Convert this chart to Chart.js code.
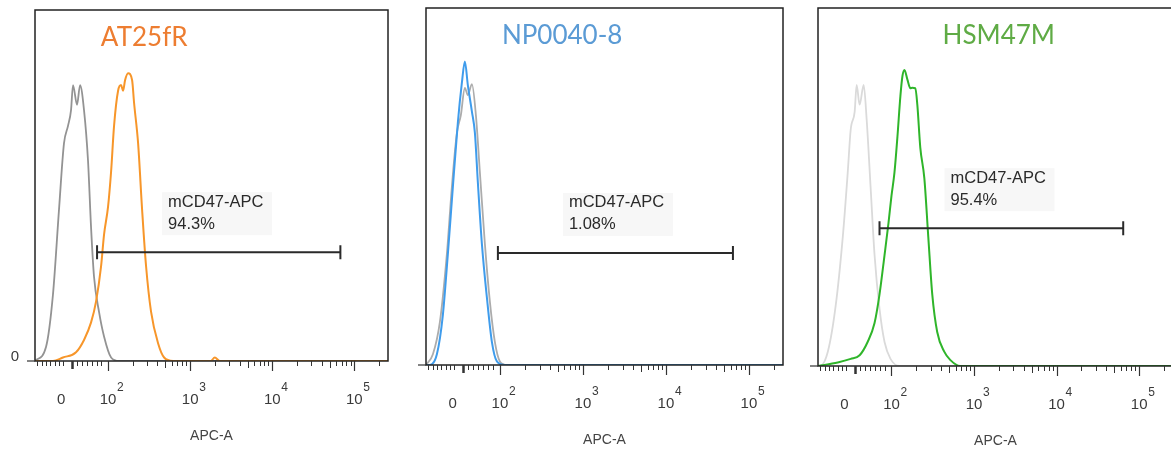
<!DOCTYPE html>
<html>
<head>
<meta charset="utf-8">
<script src="https://cdn.jsdelivr.net/npm/chart.js"></script>
<style>
  html, body { margin: 0; padding: 0; background: #fff; }
  #wrap { position: relative; width: 1171px; height: 450px; overflow: hidden; background: #fff; }
  #wrap canvas { position: absolute; top: 0; }
</style>
</head>
<body>
<div id="wrap">
  <canvas id="p1" width="400" height="450" style="left:0px"></canvas>
  <canvas id="p2" width="400" height="450" style="left:400px"></canvas>
  <canvas id="p3" width="380" height="450" style="left:800px"></canvas>
</div>
<script>
// x values are display channels in decade units (2 = 10^2, 3 = 10^3 ...), y is % of max count
const sampleNames = ["AT25fR", "NP0040-8", "HSM47M"];
const gatePct = ["94.3%", "1.08%", "95.4%"];
const gateFrom = [1.866, 1.976, 1.855];
const gateTo = [4.83, 4.807, 4.807];
const gateLevel = [31, 31.4, 38.5];
const decadeTicks = [2, 3, 4, 5];
const zeroLabelAt = 1.43;
const zeroTickAt = 1.555;
const linearTicks = [1.13, 1.19, 1.24, 1.29, 1.35, 1.40, 1.45, 1.62, 1.68, 1.74, 1.80, 1.86, 1.92];

// AT25fR
const at25frCtrlCh = [1.11, 1.244, 1.329, 1.402, 1.463, 1.512, 1.549, 1.573, 1.622, 1.659, 1.707, 1.756, 1.793, 1.829, 1.890, 1.951, 2.037, 2.134, 5.41];
const at25frCtrlY = [0, 4, 19, 43, 62, 67, 71.5, 78.6, 73, 78.6, 71.5, 57, 38, 24, 14, 7, 1, 0, 0];
const at25frCh = [1.11, 1.329, 1.451, 1.610, 1.707, 1.793, 1.854, 1.915, 1.951, 2.0, 2.037, 2.073, 2.122, 2.159, 2.183, 2.207, 2.244, 2.293, 2.317, 2.366, 2.415, 2.463, 2.524, 2.610, 2.683, 2.793, 3.25, 3.30, 3.36, 5.41];
const at25frY = [0, 0, 1, 2.5, 6, 11, 17, 27, 36, 44, 54, 67, 77, 78.6, 77, 80, 82, 80, 73.5, 62, 43, 27, 14, 5, 1, 0, 0, 1, 0, 0];

// NP0040-8
const np0040CtrlCh = [1.11, 1.193, 1.277, 1.361, 1.422, 1.482, 1.530, 1.578, 1.614, 1.663, 1.711, 1.759, 1.819, 1.880, 1.940, 2.0, 2.084, 5.41];
const np0040CtrlY = [0, 3, 12, 31, 50, 65, 70, 77.6, 75.6, 78.7, 70, 54, 34, 17.6, 6.4, 1, 0, 0];
const np0040Ch = [1.11, 1.157, 1.241, 1.313, 1.373, 1.434, 1.494, 1.542, 1.578, 1.614, 1.663, 1.699, 1.735, 1.783, 1.843, 1.904, 1.964, 2.060, 5.41];
const np0040Y = [0, 0, 3, 14, 31, 50, 68, 79, 85, 78.4, 71, 65, 51, 34, 19, 6.4, 1, 0, 0];

// HSM47M
const hsm47mCtrlCh = [1.11, 1.133, 1.229, 1.325, 1.410, 1.470, 1.506, 1.554, 1.578, 1.614, 1.663, 1.699, 1.747, 1.795, 1.855, 1.916, 1.988, 2.096, 5.41];
const hsm47mCtrlY = [0, 0, 4, 17, 36, 54, 66, 71, 78.5, 73, 78.5, 69, 50, 31, 16, 6.7, 2, 0, 0];
const hsm47mCh = [1.11, 1.349, 1.506, 1.614, 1.711, 1.795, 1.855, 1.916, 1.964, 2.0, 2.036, 2.072, 2.108, 2.133, 2.157, 2.193, 2.229, 2.253, 2.289, 2.313, 2.349, 2.398, 2.446, 2.494, 2.554, 2.639, 2.711, 2.831, 5.41];
const hsm47mY = [0, 1, 2, 3, 6.7, 12, 20, 31, 40, 47.5, 54, 64, 75.4, 81, 82.7, 80, 77.6, 77.7, 77.6, 73, 61, 52.5, 36, 20, 9.5, 4, 1.7, 0, 0];

const toPoints = (xs, ys) => xs.map((x, i) => ({ x: x, y: ys[i] }));

const axisFont = "15px 'Liberation Sans', Arial, sans-serif";

const flowAxes = {
  id: "flowAxes",
  afterDraw(chart, args, o) {
    const { ctx, chartArea: a, scales: { x, y } } = chart;
    ctx.save();

    // frame
    ctx.strokeStyle = "#222";
    ctx.lineWidth = 1.5;
    ctx.strokeRect(a.left, a.top, a.right - a.left, a.bottom - a.top);

    // ticks under the x axis
    ctx.strokeStyle = "#333";
    const tick = (v, len, w) => {
      const px = Math.round(x.getPixelForValue(v)) + 0.5;
      ctx.lineWidth = w;
      ctx.beginPath();
      ctx.moveTo(px, a.bottom);
      ctx.lineTo(px, a.bottom + len);
      ctx.stroke();
    };
    linearTicks.forEach(v => tick(v, 5, 1));
    tick(zeroTickAt, 8, 2.5);
    decadeTicks.forEach(d => {
      tick(d, 10, 1.2);
      if (d < 5) {
        for (let k = 2; k <= 9; k++) tick(d + Math.log10(k), k === 5 ? 7 : 5, 1);
      }
    });
    tick(5 + Math.log10(2), 5, 1);

    // small tick at y = 0 on the left
    ctx.lineWidth = 1.2;
    ctx.beginPath();
    ctx.moveTo(a.left - 8, a.bottom);
    ctx.lineTo(a.left, a.bottom);
    ctx.stroke();

    // tick labels
    ctx.fillStyle = "#3a3a3a";
    ctx.textBaseline = "middle";
    ctx.textAlign = "center";
    ctx.font = axisFont;
    const labY = a.bottom + 39;
    ctx.fillText("0", x.getPixelForValue(zeroLabelAt), labY);
    decadeTicks.forEach(d => {
      const px = x.getPixelForValue(d);
      ctx.font = axisFont;
      ctx.textAlign = "center";
      ctx.fillText("10", px, labY);
      ctx.font = "12px 'Liberation Sans', Arial, sans-serif";
      ctx.textAlign = "left";
      ctx.fillText(String(d), px + 9, labY - 12);
    });
    ctx.textAlign = "center";
    ctx.font = "14px 'Liberation Sans', Arial, sans-serif";
    ctx.fillStyle = "#444";
    ctx.fillText("APC-A", (a.left + a.right) / 2, a.bottom + 75);

    if (o.yZero) {
      ctx.font = axisFont;
      ctx.fillStyle = "#3a3a3a";
      ctx.fillText("0", a.left - 20, a.bottom - 4);
    }

    // sample name
    ctx.font = "26px Lato, 'Open Sans', sans-serif";
    ctx.fillStyle = o.titleColor;
    ctx.fillText(o.title, x.getPixelForValue(o.titleAt), a.top + 28);

    // gate
    const gx1 = x.getPixelForValue(o.gate[0]);
    const gx2 = x.getPixelForValue(o.gate[1]);
    const gy = y.getPixelForValue(o.gate[2]);
    ctx.strokeStyle = "#2a2a2a";
    ctx.lineWidth = 2;
    ctx.beginPath();
    ctx.moveTo(gx1, gy); ctx.lineTo(gx2, gy);
    ctx.moveTo(gx1, gy - 7); ctx.lineTo(gx1, gy + 7);
    ctx.moveTo(gx2, gy - 7); ctx.lineTo(gx2, gy + 7);
    ctx.stroke();

    // gate label
    const bx = gx1 + 65, by = gy - 60;
    ctx.fillStyle = "#f7f7f7";
    ctx.fillRect(bx, by, 110, 43);
    ctx.fillStyle = "#2a2a2a";
    ctx.textAlign = "left";
    ctx.font = "16.5px 'Liberation Sans', Arial, sans-serif";
    ctx.fillText("mCD47-APC", bx + 6, by + 10);
    ctx.fillText(o.pct, bx + 6, by + 32);

    ctx.restore();
  }
};

function makePanel(id, pad, ctrl, stain, color, ctrlColor, opts) {
  new Chart(document.getElementById(id), {
    type: "line",
    data: {
      datasets: [
        { data: stain, borderColor: color, borderWidth: 2, pointRadius: 0, fill: false, cubicInterpolationMode: "monotone" },
        { data: ctrl, borderColor: ctrlColor, borderWidth: 1.8, pointRadius: 0, fill: false, cubicInterpolationMode: "monotone" }
      ]
    },
    options: {
      responsive: false,
      animation: false,
      layout: { padding: pad },
      plugins: {
        legend: { display: false },
        tooltip: { enabled: false },
        flowAxes: opts
      },
      scales: {
        x: { type: "linear", min: 1.11, max: 5.41, display: false },
        y: { min: 0, max: 100, display: false }
      }
    },
    plugins: [flowAxes]
  });
}

makePanel("p1", { left: 35, top: 10, right: 12, bottom: 89 },
  toPoints(at25frCtrlCh, at25frCtrlY), toPoints(at25frCh, at25frY),
  "#f7962a", "#939393",
  { title: sampleNames[0], titleColor: "#ed7d31", titleAt: 2.44, yZero: true,
    gate: [gateFrom[0], gateTo[0], gateLevel[0]], pct: gatePct[0] });

makePanel("p2", { left: 26, top: 8, right: 17, bottom: 85 },
  toPoints(np0040CtrlCh, np0040CtrlY), toPoints(np0040Ch, np0040Y),
  "#3f9cec", "#acacac",
  { title: sampleNames[1], titleColor: "#5b9bd5", titleAt: 2.75, yZero: false,
    gate: [gateFrom[1], gateTo[1], gateLevel[1]], pct: gatePct[1] });

makePanel("p3", { left: 18, top: 8, right: 7, bottom: 84 },
  toPoints(hsm47mCtrlCh, hsm47mCtrlY), toPoints(hsm47mCh, hsm47mY),
  "#2fb52a", "#dadada",
  { title: sampleNames[2], titleColor: "#5fab45", titleAt: 3.30, yZero: false,
    gate: [gateFrom[2], gateTo[2], gateLevel[2]], pct: gatePct[2] });
</script>
</body>
</html>
